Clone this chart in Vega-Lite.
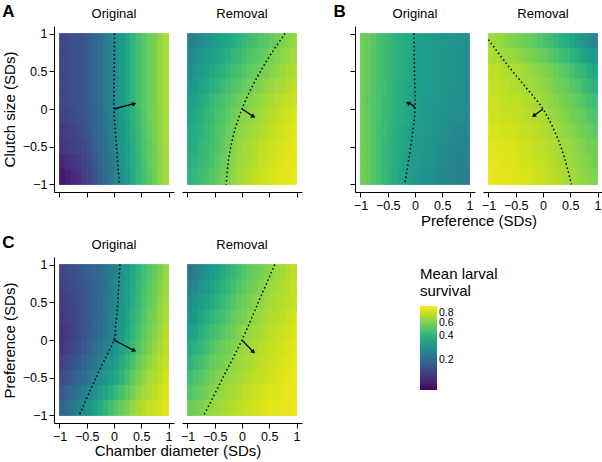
{
  "$schema": "https://vega.github.io/schema/vega-lite/v6.json",
  "padding": {"left": 2, "top": 3, "right": 0, "bottom": 0},
  "background": "white",
  "datasets": {
    "d": [
      {"k":"h","g":"A","m":"Original","y":0.9,"x":[-0.95,-0.85,-0.75,-0.65,-0.55,-0.45,-0.35,-0.25,-0.15,-0.05,0.05,0.15,0.25,0.35,0.45,0.55,0.65,0.75,0.85,0.95],"v":[0.136,0.140,0.147,0.150,0.154,0.166,0.184,0.204,0.225,0.249,0.283,0.321,0.364,0.413,0.469,0.519,0.560,0.604,0.668,0.720]},
      {"k":"h","g":"A","m":"Original","y":0.7,"x":[-0.95,-0.85,-0.75,-0.65,-0.55,-0.45,-0.35,-0.25,-0.15,-0.05,0.05,0.15,0.25,0.35,0.45,0.55,0.65,0.75,0.85,0.95],"v":[0.136,0.140,0.147,0.150,0.154,0.166,0.184,0.204,0.225,0.249,0.283,0.321,0.364,0.413,0.469,0.519,0.560,0.604,0.668,0.720]},
      {"k":"h","g":"A","m":"Original","y":0.5,"x":[-0.95,-0.85,-0.75,-0.65,-0.55,-0.45,-0.35,-0.25,-0.15,-0.05,0.05,0.15,0.25,0.35,0.45,0.55,0.65,0.75,0.85,0.95],"v":[0.136,0.140,0.147,0.150,0.154,0.166,0.184,0.204,0.225,0.249,0.283,0.321,0.364,0.413,0.469,0.519,0.560,0.604,0.668,0.720]},
      {"k":"h","g":"A","m":"Original","y":0.3,"x":[-0.95,-0.85,-0.75,-0.65,-0.55,-0.45,-0.35,-0.25,-0.15,-0.05,0.05,0.15,0.25,0.35,0.45,0.55,0.65,0.75,0.85,0.95],"v":[0.136,0.140,0.147,0.150,0.154,0.166,0.184,0.204,0.225,0.249,0.283,0.321,0.364,0.413,0.469,0.519,0.560,0.604,0.668,0.720]},
      {"k":"h","g":"A","m":"Original","y":0.1,"x":[-0.95,-0.85,-0.75,-0.65,-0.55,-0.45,-0.35,-0.25,-0.15,-0.05,0.05,0.15,0.25,0.35,0.45,0.55,0.65,0.75,0.85,0.95],"v":[0.136,0.140,0.147,0.150,0.154,0.166,0.184,0.204,0.225,0.249,0.283,0.321,0.364,0.413,0.469,0.519,0.560,0.604,0.668,0.720]},
      {"k":"h","g":"A","m":"Original","y":-0.1,"x":[-0.95,-0.85,-0.75,-0.65,-0.55,-0.45,-0.35,-0.25,-0.15,-0.05,0.05,0.15,0.25,0.35,0.45,0.55,0.65,0.75,0.85,0.95],"v":[0.133,0.136,0.140,0.147,0.150,0.162,0.180,0.199,0.220,0.243,0.276,0.313,0.355,0.403,0.457,0.506,0.560,0.604,0.651,0.720]},
      {"k":"h","g":"A","m":"Original","y":-0.3,"x":[-0.95,-0.85,-0.75,-0.65,-0.55,-0.45,-0.35,-0.25,-0.15,-0.05,0.05,0.15,0.25,0.35,0.45,0.55,0.65,0.75,0.85,0.95],"v":[0.123,0.129,0.133,0.140,0.147,0.158,0.175,0.194,0.214,0.237,0.269,0.305,0.346,0.393,0.446,0.506,0.546,0.604,0.651,0.720]},
      {"k":"h","g":"A","m":"Original","y":-0.5,"x":[-0.95,-0.85,-0.75,-0.65,-0.55,-0.45,-0.35,-0.25,-0.15,-0.05,0.05,0.15,0.25,0.35,0.45,0.55,0.65,0.75,0.85,0.95],"v":[0.117,0.123,0.129,0.133,0.140,0.150,0.166,0.189,0.209,0.231,0.262,0.298,0.338,0.383,0.435,0.493,0.532,0.589,0.651,0.702]},
      {"k":"h","g":"A","m":"Original","y":-0.7,"x":[-0.95,-0.85,-0.75,-0.65,-0.55,-0.45,-0.35,-0.25,-0.15,-0.05,0.05,0.15,0.25,0.35,0.45,0.55,0.65,0.75,0.85,0.95],"v":[0.103,0.111,0.117,0.123,0.133,0.143,0.158,0.180,0.199,0.220,0.249,0.283,0.329,0.374,0.435,0.481,0.532,0.589,0.635,0.702]},
      {"k":"h","g":"A","m":"Original","y":-0.9,"x":[-0.95,-0.85,-0.75,-0.65,-0.55,-0.45,-0.35,-0.25,-0.15,-0.05,0.05,0.15,0.25,0.35,0.45,0.55,0.65,0.75,0.85,0.95],"v":[0.093,0.100,0.106,0.114,0.123,0.136,0.150,0.171,0.189,0.214,0.243,0.276,0.321,0.364,0.424,0.469,0.519,0.574,0.635,0.702]},

      {"k":"h","g":"A","m":"Removal","y":0.9,"x":[-0.95,-0.85,-0.75,-0.65,-0.55,-0.45,-0.35,-0.25,-0.15,-0.05,0.05,0.15,0.25,0.35,0.45,0.55,0.65,0.75,0.85,0.95],"v":[0.237,0.256,0.269,0.290,0.305,0.329,0.346,0.364,0.383,0.413,0.435,0.457,0.481,0.506,0.519,0.546,0.574,0.604,0.635,0.668]},
      {"k":"h","g":"A","m":"Removal","y":0.7,"x":[-0.95,-0.85,-0.75,-0.65,-0.55,-0.45,-0.35,-0.25,-0.15,-0.05,0.05,0.15,0.25,0.35,0.45,0.55,0.65,0.75,0.85,0.95],"v":[0.256,0.276,0.290,0.313,0.338,0.355,0.374,0.393,0.424,0.446,0.469,0.493,0.519,0.532,0.560,0.589,0.619,0.651,0.668,0.702]},
      {"k":"h","g":"A","m":"Removal","y":0.5,"x":[-0.95,-0.85,-0.75,-0.65,-0.55,-0.45,-0.35,-0.25,-0.15,-0.05,0.05,0.15,0.25,0.35,0.45,0.55,0.65,0.75,0.85,0.95],"v":[0.276,0.298,0.321,0.338,0.364,0.383,0.403,0.435,0.457,0.481,0.506,0.532,0.560,0.574,0.604,0.635,0.651,0.685,0.720,0.739]},
      {"k":"h","g":"A","m":"Removal","y":0.3,"x":[-0.95,-0.85,-0.75,-0.65,-0.55,-0.45,-0.35,-0.25,-0.15,-0.05,0.05,0.15,0.25,0.35,0.45,0.55,0.65,0.75,0.85,0.95],"v":[0.305,0.321,0.346,0.364,0.393,0.413,0.446,0.469,0.493,0.519,0.546,0.574,0.604,0.619,0.651,0.685,0.702,0.720,0.758,0.777]},
      {"k":"h","g":"A","m":"Removal","y":0.1,"x":[-0.95,-0.85,-0.75,-0.65,-0.55,-0.45,-0.35,-0.25,-0.15,-0.05,0.05,0.15,0.25,0.35,0.45,0.55,0.65,0.75,0.85,0.95],"v":[0.329,0.346,0.374,0.403,0.424,0.457,0.481,0.506,0.532,0.560,0.589,0.619,0.651,0.668,0.702,0.720,0.758,0.777,0.797,0.817]},
      {"k":"h","g":"A","m":"Removal","y":-0.1,"x":[-0.95,-0.85,-0.75,-0.65,-0.55,-0.45,-0.35,-0.25,-0.15,-0.05,0.05,0.15,0.25,0.35,0.45,0.55,0.65,0.75,0.85,0.95],"v":[0.346,0.374,0.393,0.424,0.446,0.481,0.506,0.532,0.574,0.604,0.635,0.651,0.685,0.702,0.739,0.758,0.777,0.817,0.838,0.860]},
      {"k":"h","g":"A","m":"Removal","y":-0.3,"x":[-0.95,-0.85,-0.75,-0.65,-0.55,-0.45,-0.35,-0.25,-0.15,-0.05,0.05,0.15,0.25,0.35,0.45,0.55,0.65,0.75,0.85,0.95],"v":[0.364,0.383,0.403,0.435,0.457,0.493,0.519,0.560,0.589,0.635,0.668,0.685,0.720,0.739,0.758,0.797,0.817,0.838,0.860,0.882]},
      {"k":"h","g":"A","m":"Removal","y":-0.5,"x":[-0.95,-0.85,-0.75,-0.65,-0.55,-0.45,-0.35,-0.25,-0.15,-0.05,0.05,0.15,0.25,0.35,0.45,0.55,0.65,0.75,0.85,0.95],"v":[0.374,0.393,0.424,0.446,0.469,0.493,0.532,0.574,0.619,0.668,0.702,0.720,0.739,0.777,0.797,0.817,0.838,0.860,0.882,0.904]},
      {"k":"h","g":"A","m":"Removal","y":-0.7,"x":[-0.95,-0.85,-0.75,-0.65,-0.55,-0.45,-0.35,-0.25,-0.15,-0.05,0.05,0.15,0.25,0.35,0.45,0.55,0.65,0.75,0.85,0.95],"v":[0.393,0.413,0.435,0.457,0.481,0.519,0.546,0.589,0.635,0.685,0.720,0.739,0.758,0.797,0.817,0.838,0.860,0.882,0.904,0.904]},
      {"k":"h","g":"A","m":"Removal","y":-0.9,"x":[-0.95,-0.85,-0.75,-0.65,-0.55,-0.45,-0.35,-0.25,-0.15,-0.05,0.05,0.15,0.25,0.35,0.45,0.55,0.65,0.75,0.85,0.95],"v":[0.413,0.435,0.457,0.481,0.506,0.532,0.574,0.604,0.651,0.702,0.739,0.758,0.797,0.817,0.838,0.860,0.882,0.904,0.904,0.927]},

      {"k":"h","g":"B","m":"Original","y":0.9,"x":[-0.95,-0.85,-0.75,-0.65,-0.55,-0.45,-0.35,-0.25,-0.15,-0.05,0.05,0.15,0.25,0.35,0.45,0.55,0.65,0.75,0.85,0.95],"v":[0.574,0.546,0.519,0.481,0.457,0.435,0.413,0.393,0.374,0.355,0.338,0.329,0.321,0.313,0.305,0.305,0.298,0.290,0.290,0.283]},
      {"k":"h","g":"B","m":"Original","y":0.7,"x":[-0.95,-0.85,-0.75,-0.65,-0.55,-0.45,-0.35,-0.25,-0.15,-0.05,0.05,0.15,0.25,0.35,0.45,0.55,0.65,0.75,0.85,0.95],"v":[0.574,0.546,0.506,0.481,0.457,0.435,0.413,0.393,0.374,0.355,0.338,0.329,0.321,0.313,0.305,0.298,0.290,0.290,0.283,0.276]},
      {"k":"h","g":"B","m":"Original","y":0.5,"x":[-0.95,-0.85,-0.75,-0.65,-0.55,-0.45,-0.35,-0.25,-0.15,-0.05,0.05,0.15,0.25,0.35,0.45,0.55,0.65,0.75,0.85,0.95],"v":[0.574,0.546,0.506,0.481,0.457,0.435,0.413,0.393,0.374,0.355,0.338,0.329,0.321,0.313,0.305,0.298,0.290,0.283,0.283,0.276]},
      {"k":"h","g":"B","m":"Original","y":0.3,"x":[-0.95,-0.85,-0.75,-0.65,-0.55,-0.45,-0.35,-0.25,-0.15,-0.05,0.05,0.15,0.25,0.35,0.45,0.55,0.65,0.75,0.85,0.95],"v":[0.574,0.546,0.506,0.481,0.457,0.424,0.403,0.383,0.364,0.346,0.338,0.329,0.321,0.305,0.298,0.290,0.290,0.283,0.276,0.269]},
      {"k":"h","g":"B","m":"Original","y":0.1,"x":[-0.95,-0.85,-0.75,-0.65,-0.55,-0.45,-0.35,-0.25,-0.15,-0.05,0.05,0.15,0.25,0.35,0.45,0.55,0.65,0.75,0.85,0.95],"v":[0.574,0.532,0.506,0.481,0.446,0.424,0.403,0.383,0.364,0.346,0.338,0.321,0.313,0.305,0.298,0.290,0.283,0.276,0.276,0.269]},
      {"k":"h","g":"B","m":"Original","y":-0.1,"x":[-0.95,-0.85,-0.75,-0.65,-0.55,-0.45,-0.35,-0.25,-0.15,-0.05,0.05,0.15,0.25,0.35,0.45,0.55,0.65,0.75,0.85,0.95],"v":[0.574,0.546,0.506,0.481,0.446,0.424,0.403,0.383,0.364,0.346,0.329,0.321,0.313,0.298,0.290,0.283,0.276,0.276,0.269,0.262]},
      {"k":"h","g":"B","m":"Original","y":-0.3,"x":[-0.95,-0.85,-0.75,-0.65,-0.55,-0.45,-0.35,-0.25,-0.15,-0.05,0.05,0.15,0.25,0.35,0.45,0.55,0.65,0.75,0.85,0.95],"v":[0.574,0.546,0.506,0.469,0.446,0.413,0.393,0.374,0.355,0.338,0.321,0.313,0.305,0.290,0.283,0.276,0.269,0.262,0.262,0.256]},
      {"k":"h","g":"B","m":"Original","y":-0.5,"x":[-0.95,-0.85,-0.75,-0.65,-0.55,-0.45,-0.35,-0.25,-0.15,-0.05,0.05,0.15,0.25,0.35,0.45,0.55,0.65,0.75,0.85,0.95],"v":[0.589,0.546,0.506,0.469,0.435,0.413,0.393,0.374,0.346,0.329,0.313,0.305,0.298,0.290,0.276,0.269,0.262,0.256,0.249,0.249]},
      {"k":"h","g":"B","m":"Original","y":-0.7,"x":[-0.95,-0.85,-0.75,-0.65,-0.55,-0.45,-0.35,-0.25,-0.15,-0.05,0.05,0.15,0.25,0.35,0.45,0.55,0.65,0.75,0.85,0.95],"v":[0.589,0.546,0.506,0.469,0.435,0.413,0.383,0.364,0.346,0.321,0.313,0.298,0.290,0.283,0.269,0.262,0.256,0.249,0.243,0.237]},
      {"k":"h","g":"B","m":"Original","y":-0.9,"x":[-0.95,-0.85,-0.75,-0.65,-0.55,-0.45,-0.35,-0.25,-0.15,-0.05,0.05,0.15,0.25,0.35,0.45,0.55,0.65,0.75,0.85,0.95],"v":[0.589,0.546,0.506,0.469,0.435,0.403,0.383,0.355,0.338,0.313,0.305,0.290,0.283,0.276,0.262,0.256,0.249,0.243,0.237,0.231]},

      {"k":"h","g":"B","m":"Removal","y":0.9,"x":[-0.95,-0.85,-0.75,-0.65,-0.55,-0.45,-0.35,-0.25,-0.15,-0.05,0.05,0.15,0.25,0.35,0.45,0.55,0.65,0.75,0.85,0.95],"v":[0.702,0.685,0.668,0.635,0.619,0.604,0.574,0.560,0.532,0.506,0.481,0.457,0.435,0.403,0.383,0.355,0.329,0.298,0.276,0.249]},
      {"k":"h","g":"B","m":"Removal","y":0.7,"x":[-0.95,-0.85,-0.75,-0.65,-0.55,-0.45,-0.35,-0.25,-0.15,-0.05,0.05,0.15,0.25,0.35,0.45,0.55,0.65,0.75,0.85,0.95],"v":[0.739,0.720,0.702,0.685,0.685,0.651,0.635,0.619,0.589,0.574,0.546,0.519,0.493,0.469,0.446,0.413,0.383,0.355,0.329,0.305]},
      {"k":"h","g":"B","m":"Removal","y":0.5,"x":[-0.95,-0.85,-0.75,-0.65,-0.55,-0.45,-0.35,-0.25,-0.15,-0.05,0.05,0.15,0.25,0.35,0.45,0.55,0.65,0.75,0.85,0.95],"v":[0.777,0.777,0.758,0.739,0.739,0.720,0.702,0.685,0.651,0.635,0.619,0.589,0.560,0.532,0.506,0.481,0.446,0.424,0.393,0.364]},
      {"k":"h","g":"B","m":"Removal","y":0.3,"x":[-0.95,-0.85,-0.75,-0.65,-0.55,-0.45,-0.35,-0.25,-0.15,-0.05,0.05,0.15,0.25,0.35,0.45,0.55,0.65,0.75,0.85,0.95],"v":[0.797,0.797,0.777,0.777,0.758,0.739,0.720,0.702,0.685,0.668,0.651,0.619,0.589,0.574,0.546,0.519,0.493,0.457,0.435,0.403]},
      {"k":"h","g":"B","m":"Removal","y":0.1,"x":[-0.95,-0.85,-0.75,-0.65,-0.55,-0.45,-0.35,-0.25,-0.15,-0.05,0.05,0.15,0.25,0.35,0.45,0.55,0.65,0.75,0.85,0.95],"v":[0.817,0.817,0.797,0.797,0.777,0.777,0.758,0.739,0.720,0.702,0.685,0.651,0.635,0.604,0.589,0.560,0.532,0.506,0.481,0.457]},
      {"k":"h","g":"B","m":"Removal","y":-0.1,"x":[-0.95,-0.85,-0.75,-0.65,-0.55,-0.45,-0.35,-0.25,-0.15,-0.05,0.05,0.15,0.25,0.35,0.45,0.55,0.65,0.75,0.85,0.95],"v":[0.838,0.838,0.817,0.817,0.797,0.797,0.777,0.758,0.739,0.739,0.720,0.685,0.668,0.635,0.619,0.589,0.574,0.546,0.519,0.493]},
      {"k":"h","g":"B","m":"Removal","y":-0.3,"x":[-0.95,-0.85,-0.75,-0.65,-0.55,-0.45,-0.35,-0.25,-0.15,-0.05,0.05,0.15,0.25,0.35,0.45,0.55,0.65,0.75,0.85,0.95],"v":[0.860,0.860,0.838,0.838,0.838,0.817,0.797,0.797,0.777,0.758,0.739,0.720,0.702,0.668,0.651,0.635,0.604,0.574,0.560,0.532]},
      {"k":"h","g":"B","m":"Removal","y":-0.5,"x":[-0.95,-0.85,-0.75,-0.65,-0.55,-0.45,-0.35,-0.25,-0.15,-0.05,0.05,0.15,0.25,0.35,0.45,0.55,0.65,0.75,0.85,0.95],"v":[0.882,0.882,0.882,0.860,0.860,0.838,0.838,0.817,0.797,0.777,0.777,0.739,0.720,0.702,0.685,0.668,0.635,0.619,0.589,0.574]},
      {"k":"h","g":"B","m":"Removal","y":-0.7,"x":[-0.95,-0.85,-0.75,-0.65,-0.55,-0.45,-0.35,-0.25,-0.15,-0.05,0.05,0.15,0.25,0.35,0.45,0.55,0.65,0.75,0.85,0.95],"v":[0.904,0.904,0.882,0.882,0.882,0.860,0.838,0.838,0.817,0.797,0.797,0.758,0.739,0.720,0.702,0.685,0.651,0.635,0.619,0.589]},
      {"k":"h","g":"B","m":"Removal","y":-0.9,"x":[-0.95,-0.85,-0.75,-0.65,-0.55,-0.45,-0.35,-0.25,-0.15,-0.05,0.05,0.15,0.25,0.35,0.45,0.55,0.65,0.75,0.85,0.95],"v":[0.927,0.904,0.904,0.904,0.882,0.882,0.860,0.860,0.838,0.817,0.817,0.777,0.758,0.739,0.720,0.702,0.685,0.651,0.635,0.619]},

      {"k":"h","g":"C","m":"Original","y":0.9,"x":[-0.95,-0.85,-0.75,-0.65,-0.55,-0.45,-0.35,-0.25,-0.15,-0.05,0.05,0.15,0.25,0.35,0.45,0.55,0.65,0.75,0.85,0.95],"v":[0.136,0.143,0.147,0.154,0.162,0.171,0.184,0.194,0.209,0.225,0.249,0.283,0.321,0.364,0.413,0.457,0.506,0.560,0.604,0.668]},
      {"k":"h","g":"C","m":"Original","y":0.7,"x":[-0.95,-0.85,-0.75,-0.65,-0.55,-0.45,-0.35,-0.25,-0.15,-0.05,0.05,0.15,0.25,0.35,0.45,0.55,0.65,0.75,0.85,0.95],"v":[0.129,0.136,0.143,0.147,0.154,0.166,0.180,0.194,0.209,0.231,0.256,0.290,0.329,0.374,0.424,0.481,0.519,0.574,0.619,0.685]},
      {"k":"h","g":"C","m":"Original","y":0.5,"x":[-0.95,-0.85,-0.75,-0.65,-0.55,-0.45,-0.35,-0.25,-0.15,-0.05,0.05,0.15,0.25,0.35,0.45,0.55,0.65,0.75,0.85,0.95],"v":[0.123,0.129,0.136,0.143,0.150,0.162,0.175,0.194,0.214,0.231,0.262,0.298,0.338,0.383,0.435,0.493,0.532,0.589,0.651,0.702]},
      {"k":"h","g":"C","m":"Original","y":0.3,"x":[-0.95,-0.85,-0.75,-0.65,-0.55,-0.45,-0.35,-0.25,-0.15,-0.05,0.05,0.15,0.25,0.35,0.45,0.55,0.65,0.75,0.85,0.95],"v":[0.120,0.126,0.133,0.143,0.150,0.162,0.180,0.199,0.214,0.237,0.269,0.305,0.346,0.403,0.457,0.506,0.560,0.604,0.668,0.720]},
      {"k":"h","g":"C","m":"Original","y":0.1,"x":[-0.95,-0.85,-0.75,-0.65,-0.55,-0.45,-0.35,-0.25,-0.15,-0.05,0.05,0.15,0.25,0.35,0.45,0.55,0.65,0.75,0.85,0.95],"v":[0.114,0.123,0.129,0.140,0.150,0.162,0.180,0.199,0.220,0.243,0.276,0.313,0.364,0.413,0.481,0.532,0.574,0.635,0.685,0.758]},
      {"k":"h","g":"C","m":"Original","y":-0.1,"x":[-0.95,-0.85,-0.75,-0.65,-0.55,-0.45,-0.35,-0.25,-0.15,-0.05,0.05,0.15,0.25,0.35,0.45,0.55,0.65,0.75,0.85,0.95],"v":[0.117,0.126,0.136,0.147,0.158,0.175,0.194,0.214,0.237,0.262,0.298,0.338,0.383,0.446,0.506,0.560,0.604,0.668,0.720,0.777]},
      {"k":"h","g":"C","m":"Original","y":-0.3,"x":[-0.95,-0.85,-0.75,-0.65,-0.55,-0.45,-0.35,-0.25,-0.15,-0.05,0.05,0.15,0.25,0.35,0.45,0.55,0.65,0.75,0.85,0.95],"v":[0.126,0.140,0.150,0.162,0.180,0.194,0.214,0.237,0.269,0.298,0.329,0.374,0.424,0.481,0.546,0.604,0.651,0.702,0.758,0.797]},
      {"k":"h","g":"C","m":"Original","y":-0.5,"x":[-0.95,-0.85,-0.75,-0.65,-0.55,-0.45,-0.35,-0.25,-0.15,-0.05,0.05,0.15,0.25,0.35,0.45,0.55,0.65,0.75,0.85,0.95],"v":[0.140,0.150,0.166,0.184,0.199,0.220,0.243,0.269,0.298,0.329,0.364,0.413,0.469,0.532,0.604,0.651,0.702,0.739,0.777,0.838]},
      {"k":"h","g":"C","m":"Original","y":-0.7,"x":[-0.95,-0.85,-0.75,-0.65,-0.55,-0.45,-0.35,-0.25,-0.15,-0.05,0.05,0.15,0.25,0.35,0.45,0.55,0.65,0.75,0.85,0.95],"v":[0.158,0.175,0.194,0.209,0.231,0.256,0.283,0.321,0.355,0.393,0.435,0.481,0.532,0.589,0.651,0.702,0.739,0.777,0.817,0.860]},
      {"k":"h","g":"C","m":"Original","y":-0.9,"x":[-0.95,-0.85,-0.75,-0.65,-0.55,-0.45,-0.35,-0.25,-0.15,-0.05,0.05,0.15,0.25,0.35,0.45,0.55,0.65,0.75,0.85,0.95],"v":[0.180,0.199,0.220,0.243,0.269,0.298,0.338,0.374,0.424,0.469,0.519,0.560,0.604,0.668,0.720,0.758,0.797,0.817,0.838,0.882]},

      {"k":"h","g":"C","m":"Removal","y":0.9,"x":[-0.95,-0.85,-0.75,-0.65,-0.55,-0.45,-0.35,-0.25,-0.15,-0.05,0.05,0.15,0.25,0.35,0.45,0.55,0.65,0.75,0.85,0.95],"v":[0.214,0.237,0.262,0.283,0.313,0.338,0.374,0.403,0.435,0.469,0.506,0.532,0.560,0.589,0.619,0.651,0.685,0.702,0.739,0.777]},
      {"k":"h","g":"C","m":"Removal","y":0.7,"x":[-0.95,-0.85,-0.75,-0.65,-0.55,-0.45,-0.35,-0.25,-0.15,-0.05,0.05,0.15,0.25,0.35,0.45,0.55,0.65,0.75,0.85,0.95],"v":[0.237,0.262,0.290,0.313,0.346,0.374,0.403,0.435,0.469,0.506,0.532,0.560,0.589,0.619,0.651,0.685,0.702,0.739,0.758,0.797]},
      {"k":"h","g":"C","m":"Removal","y":0.5,"x":[-0.95,-0.85,-0.75,-0.65,-0.55,-0.45,-0.35,-0.25,-0.15,-0.05,0.05,0.15,0.25,0.35,0.45,0.55,0.65,0.75,0.85,0.95],"v":[0.269,0.290,0.321,0.346,0.374,0.403,0.435,0.469,0.506,0.546,0.574,0.604,0.635,0.651,0.685,0.720,0.739,0.758,0.777,0.797]},
      {"k":"h","g":"C","m":"Removal","y":0.3,"x":[-0.95,-0.85,-0.75,-0.65,-0.55,-0.45,-0.35,-0.25,-0.15,-0.05,0.05,0.15,0.25,0.35,0.45,0.55,0.65,0.75,0.85,0.95],"v":[0.298,0.321,0.355,0.383,0.413,0.446,0.469,0.506,0.546,0.574,0.604,0.635,0.668,0.685,0.720,0.739,0.758,0.777,0.817,0.838]},
      {"k":"h","g":"C","m":"Removal","y":0.1,"x":[-0.95,-0.85,-0.75,-0.65,-0.55,-0.45,-0.35,-0.25,-0.15,-0.05,0.05,0.15,0.25,0.35,0.45,0.55,0.65,0.75,0.85,0.95],"v":[0.329,0.355,0.393,0.424,0.457,0.481,0.519,0.546,0.574,0.619,0.651,0.668,0.702,0.720,0.758,0.777,0.797,0.817,0.838,0.860]},
      {"k":"h","g":"C","m":"Removal","y":-0.1,"x":[-0.95,-0.85,-0.75,-0.65,-0.55,-0.45,-0.35,-0.25,-0.15,-0.05,0.05,0.15,0.25,0.35,0.45,0.55,0.65,0.75,0.85,0.95],"v":[0.374,0.403,0.424,0.457,0.493,0.532,0.560,0.589,0.619,0.651,0.685,0.702,0.720,0.758,0.777,0.797,0.817,0.838,0.860,0.882]},
      {"k":"h","g":"C","m":"Removal","y":-0.3,"x":[-0.95,-0.85,-0.75,-0.65,-0.55,-0.45,-0.35,-0.25,-0.15,-0.05,0.05,0.15,0.25,0.35,0.45,0.55,0.65,0.75,0.85,0.95],"v":[0.413,0.446,0.469,0.506,0.546,0.574,0.589,0.619,0.651,0.685,0.702,0.720,0.758,0.777,0.797,0.817,0.838,0.860,0.882,0.904]},
      {"k":"h","g":"C","m":"Removal","y":-0.5,"x":[-0.95,-0.85,-0.75,-0.65,-0.55,-0.45,-0.35,-0.25,-0.15,-0.05,0.05,0.15,0.25,0.35,0.45,0.55,0.65,0.75,0.85,0.95],"v":[0.457,0.493,0.519,0.546,0.589,0.619,0.635,0.668,0.685,0.702,0.739,0.758,0.777,0.797,0.817,0.838,0.860,0.882,0.904,0.927]},
      {"k":"h","g":"C","m":"Removal","y":-0.7,"x":[-0.95,-0.85,-0.75,-0.65,-0.55,-0.45,-0.35,-0.25,-0.15,-0.05,0.05,0.15,0.25,0.35,0.45,0.55,0.65,0.75,0.85,0.95],"v":[0.506,0.532,0.560,0.589,0.619,0.651,0.668,0.702,0.720,0.739,0.777,0.797,0.817,0.838,0.860,0.882,0.882,0.904,0.927,0.927]},
      {"k":"h","g":"C","m":"Removal","y":-0.9,"x":[-0.95,-0.85,-0.75,-0.65,-0.55,-0.45,-0.35,-0.25,-0.15,-0.05,0.05,0.15,0.25,0.35,0.45,0.55,0.65,0.75,0.85,0.95],"v":[0.560,0.589,0.604,0.635,0.668,0.685,0.702,0.739,0.758,0.777,0.797,0.817,0.838,0.860,0.882,0.904,0.904,0.927,0.927,0.951]},

      {"k":"c","g":"A","m":"Original","o":0,"x":0.01,"y":1},
      {"k":"c","g":"A","m":"Original","o":1,"x":0.005,"y":0.5},
      {"k":"c","g":"A","m":"Original","o":2,"x":0,"y":0},
      {"k":"c","g":"A","m":"Original","o":3,"x":0.045,"y":-0.5},
      {"k":"c","g":"A","m":"Original","o":4,"x":0.1,"y":-1},
      {"k":"c","g":"A","m":"Removal","o":0,"x":0.79,"y":1},
      {"k":"c","g":"A","m":"Removal","o":1,"x":0.55,"y":0.75},
      {"k":"c","g":"A","m":"Removal","o":2,"x":0.34,"y":0.5},
      {"k":"c","g":"A","m":"Removal","o":3,"x":0.155,"y":0.25},
      {"k":"c","g":"A","m":"Removal","o":4,"x":0,"y":0},
      {"k":"c","g":"A","m":"Removal","o":5,"x":-0.12,"y":-0.25},
      {"k":"c","g":"A","m":"Removal","o":6,"x":-0.205,"y":-0.5},
      {"k":"c","g":"A","m":"Removal","o":7,"x":-0.26,"y":-0.75},
      {"k":"c","g":"A","m":"Removal","o":8,"x":-0.29,"y":-1},
      {"k":"c","g":"B","m":"Original","o":0,"x":-0.02,"y":1},
      {"k":"c","g":"B","m":"Original","o":1,"x":-0.01,"y":0.5},
      {"k":"c","g":"B","m":"Original","o":2,"x":0,"y":0},
      {"k":"c","g":"B","m":"Original","o":3,"x":-0.08,"y":-0.5},
      {"k":"c","g":"B","m":"Original","o":4,"x":-0.19,"y":-1},
      {"k":"c","g":"B","m":"Removal","o":0,"x":-1,"y":0.92},
      {"k":"c","g":"B","m":"Removal","o":1,"x":-0.67,"y":0.6},
      {"k":"c","g":"B","m":"Removal","o":2,"x":-0.33,"y":0.3},
      {"k":"c","g":"B","m":"Removal","o":3,"x":0,"y":0},
      {"k":"c","g":"B","m":"Removal","o":4,"x":0.24,"y":-0.34},
      {"k":"c","g":"B","m":"Removal","o":5,"x":0.4,"y":-0.66},
      {"k":"c","g":"B","m":"Removal","o":6,"x":0.52,"y":-1},
      {"k":"c","g":"C","m":"Original","o":0,"x":0.11,"y":1},
      {"k":"c","g":"C","m":"Original","o":1,"x":0.07,"y":0.5},
      {"k":"c","g":"C","m":"Original","o":2,"x":0.03,"y":0.2},
      {"k":"c","g":"C","m":"Original","o":3,"x":0,"y":0},
      {"k":"c","g":"C","m":"Original","o":4,"x":-0.24,"y":-0.36},
      {"k":"c","g":"C","m":"Original","o":5,"x":-0.43,"y":-0.66},
      {"k":"c","g":"C","m":"Original","o":6,"x":-0.64,"y":-1},
      {"k":"c","g":"C","m":"Removal","o":0,"x":0.6,"y":1},
      {"k":"c","g":"C","m":"Removal","o":1,"x":0.3,"y":0.5},
      {"k":"c","g":"C","m":"Removal","o":2,"x":0,"y":0},
      {"k":"c","g":"C","m":"Removal","o":3,"x":-0.35,"y":-0.5},
      {"k":"c","g":"C","m":"Removal","o":4,"x":-0.7,"y":-1},

      {"k":"a","g":"A","m":"Original","o":0,"x":0,"y":0},
      {"k":"a","g":"A","m":"Original","o":1,"x":0.37,"y":0.07},
      {"k":"a","g":"A","m":"Removal","o":0,"x":0,"y":0},
      {"k":"a","g":"A","m":"Removal","o":1,"x":0.21,"y":-0.1},
      {"k":"a","g":"B","m":"Original","o":0,"x":0,"y":0},
      {"k":"a","g":"B","m":"Original","o":1,"x":-0.04,"y":0.05},
      {"k":"a","g":"B","m":"Original","o":2,"x":-0.13,"y":0.08},
      {"k":"a","g":"B","m":"Removal","o":0,"x":0,"y":0},
      {"k":"a","g":"B","m":"Removal","o":1,"x":-0.17,"y":-0.09},
      {"k":"a","g":"C","m":"Original","o":0,"x":0,"y":0},
      {"k":"a","g":"C","m":"Original","o":1,"x":0.37,"y":-0.14},
      {"k":"a","g":"C","m":"Removal","o":0,"x":0,"y":0},
      {"k":"a","g":"C","m":"Removal","o":1,"x":0.21,"y":-0.16},

      {"k":"p","g":"A","m":"Original","x":0.37,"y":0.07,"ang":75},
      {"k":"p","g":"A","m":"Removal","x":0.21,"y":-0.1,"ang":124},
      {"k":"p","g":"B","m":"Original","x":-0.13,"y":0.08,"ang":298},
      {"k":"p","g":"B","m":"Removal","x":-0.17,"y":-0.09,"ang":234},
      {"k":"p","g":"C","m":"Original","x":0.37,"y":-0.14,"ang":118},
      {"k":"p","g":"C","m":"Removal","x":0.21,"y":-0.16,"ang":137}
    ]
  },
  "vconcat": [
    {
      "hconcat": [
        {
          "data": {"name": "d"},
          "transform": [{"filter": "datum.g === 'A'"}],
          "title": {"text": "A", "anchor": "start", "frame": "bounds", "fontSize": 17, "fontWeight": "bold", "dy": 17},
          "facet": {"column": {"field": "m", "type": "nominal", "header": {"title": null}}},
          "spacing": 8,
          "spec": {
            "width": 120, "height": 166,
            "encoding": {
              "x": {"field": "x", "type": "quantitative", "scale": {"domain": [-1.1, 1.1], "nice": false, "zero": false}, "axis": {"values": [-1, -0.5, 0, 0.5, 1], "labels": false, "title": null}},
              "y": {"field": "y", "type": "quantitative", "scale": {"domain": [-1.1, 1.1], "nice": false, "zero": false}, "axis": {"values": [-1, -0.5, 0, 0.5, 1], "format": "~g", "title": "Clutch size (SDs)"}}
            },
            "layer": [
              {"transform": [{"filter": "datum.k === 'h'"}, {"flatten": ["x", "v"]}],
               "mark": {"type": "point", "shape": "M-1,-2.58H1V2.58H-1Z", "size": 38.4, "filled": true, "opacity": 1, "strokeWidth": 0},
               "encoding": {"color": {"field": "v", "type": "quantitative", "scale": {"type": "log", "domain": [0.08, 1], "scheme": "viridis"},
                 "legend": {"orient": "none", "legendX": 366, "legendY": 241, "direction": "vertical", "title": ["Mean larval", "survival"], "values": [0.2, 0.4, 0.6, 0.8], "format": "~g", "gradientLength": 84, "gradientThickness": 17, "labelOverlap": false}}}},
              {"transform": [{"filter": "datum.k === 'c'"}], "mark": {"type": "line", "color": "black", "strokeWidth": 1.5, "strokeDash": [1.5, 2.6], "interpolate": "cardinal"}, "encoding": {"order": {"field": "o", "type": "quantitative"}}},
              {"transform": [{"filter": "datum.k === 'a'"}], "mark": {"type": "line", "color": "black", "strokeWidth": 1.3}, "encoding": {"order": {"field": "o", "type": "quantitative"}}},
              {"transform": [{"filter": "datum.k === 'p'"}], "mark": {"type": "point", "shape": "triangle-up", "size": 24, "filled": true, "color": "black", "opacity": 1}, "encoding": {"angle": {"field": "ang", "type": "quantitative", "scale": null}}}
            ]
          }
        },
        {
          "data": {"name": "d"},
          "transform": [{"filter": "datum.g === 'B'"}],
          "title": {"text": "B", "anchor": "start", "frame": "bounds", "fontSize": 17, "fontWeight": "bold", "dy": 17, "dx": -16},
          "facet": {"column": {"field": "m", "type": "nominal", "title": "Preference (SDs)", "header": {"titleOrient": "bottom", "labelOrient": "top", "titlePadding": -8}}},
          "spacing": 8,
          "spec": {
            "width": 120, "height": 166,
            "encoding": {
              "x": {"field": "x", "type": "quantitative", "scale": {"domain": [-1.1, 1.1], "nice": false, "zero": false}, "axis": {"values": [-1, -0.5, 0, 0.5, 1], "format": "~g", "title": null}},
              "y": {"field": "y", "type": "quantitative", "scale": {"domain": [-1.1, 1.1], "nice": false, "zero": false}, "axis": {"values": [-1, -0.5, 0, 0.5, 1], "labels": false, "title": null}}
            },
            "layer": [
              {"transform": [{"filter": "datum.k === 'h'"}, {"flatten": ["x", "v"]}],
               "mark": {"type": "point", "shape": "M-1,-2.58H1V2.58H-1Z", "size": 38.4, "filled": true, "opacity": 1, "strokeWidth": 0},
               "encoding": {"color": {"field": "v", "type": "quantitative", "scale": {"type": "log", "domain": [0.08, 1], "scheme": "viridis"},
                 "legend": {"orient": "none", "legendX": 366, "legendY": 241, "direction": "vertical", "title": ["Mean larval", "survival"], "values": [0.2, 0.4, 0.6, 0.8], "format": "~g", "gradientLength": 84, "gradientThickness": 17, "labelOverlap": false}}}},
              {"transform": [{"filter": "datum.k === 'c'"}], "mark": {"type": "line", "color": "black", "strokeWidth": 1.5, "strokeDash": [1.5, 2.6], "interpolate": "cardinal"}, "encoding": {"order": {"field": "o", "type": "quantitative"}}},
              {"transform": [{"filter": "datum.k === 'a'"}], "mark": {"type": "line", "color": "black", "strokeWidth": 1.3, "interpolate": "cardinal"}, "encoding": {"order": {"field": "o", "type": "quantitative"}}},
              {"transform": [{"filter": "datum.k === 'p'"}], "mark": {"type": "point", "shape": "triangle-up", "size": 24, "filled": true, "color": "black", "opacity": 1}, "encoding": {"angle": {"field": "ang", "type": "quantitative", "scale": null}}}
            ]
          }
        }
      ],
      "spacing": 31
    },
    {
      "data": {"name": "d"},
      "transform": [{"filter": "datum.g === 'C'"}],
      "title": {"text": "C", "anchor": "start", "frame": "bounds", "fontSize": 17, "fontWeight": "bold", "dy": 17},
      "facet": {"column": {"field": "m", "type": "nominal", "title": "Chamber diameter (SDs)", "header": {"titleOrient": "bottom", "labelOrient": "top", "titlePadding": -9}}},
      "spacing": 8,
      "spec": {
        "width": 120, "height": 166,
        "encoding": {
          "x": {"field": "x", "type": "quantitative", "scale": {"domain": [-1.1, 1.1], "nice": false, "zero": false}, "axis": {"values": [-1, -0.5, 0, 0.5, 1], "format": "~g", "title": null}},
          "y": {"field": "y", "type": "quantitative", "scale": {"domain": [-1.1, 1.1], "nice": false, "zero": false}, "axis": {"values": [-1, -0.5, 0, 0.5, 1], "format": "~g", "title": "Preference (SDs)"}}
        },
        "layer": [
          {"transform": [{"filter": "datum.k === 'h'"}, {"flatten": ["x", "v"]}],
           "mark": {"type": "point", "shape": "M-1,-2.58H1V2.58H-1Z", "size": 38.4, "filled": true, "opacity": 1, "strokeWidth": 0},
           "encoding": {"color": {"field": "v", "type": "quantitative", "scale": {"type": "log", "domain": [0.08, 1], "scheme": "viridis"},
             "legend": {"orient": "none", "legendX": 366, "legendY": 241, "direction": "vertical", "title": ["Mean larval", "survival"], "values": [0.2, 0.4, 0.6, 0.8], "format": "~g", "gradientLength": 84, "gradientThickness": 17, "labelOverlap": false}}}},
          {"transform": [{"filter": "datum.k === 'c'"}], "mark": {"type": "line", "color": "black", "strokeWidth": 1.5, "strokeDash": [1.5, 2.6], "interpolate": "cardinal"}, "encoding": {"order": {"field": "o", "type": "quantitative"}}},
          {"transform": [{"filter": "datum.k === 'a'"}], "mark": {"type": "line", "color": "black", "strokeWidth": 1.3}, "encoding": {"order": {"field": "o", "type": "quantitative"}}},
          {"transform": [{"filter": "datum.k === 'p'"}], "mark": {"type": "point", "shape": "triangle-up", "size": 24, "filled": true, "color": "black", "opacity": 1}, "encoding": {"angle": {"field": "ang", "type": "quantitative", "scale": null}}}
        ]
      }
    }
  ],
  "spacing": 5,
  "resolve": {"scale": {"color": "shared"}, "legend": {"color": "shared"}},
  "config": {
    "font": "Liberation Sans",
    "view": {"stroke": null},
    "axis": {"grid": false, "domainColor": "black", "tickColor": "black", "labelColor": "black", "titleColor": "black", "labelFontSize": 12.5, "titleFontSize": 15, "titleFontWeight": "normal", "tickSize": 5, "domainWidth": 1, "tickWidth": 1, "labelPadding": 2, "titlePadding": 5},
    "header": {"labelFontSize": 13, "labelColor": "black", "labelPadding": 5, "titleFontSize": 15, "titleFontWeight": "normal", "titleColor": "black"},
    "legend": {"titleFontSize": 15, "titleFontWeight": "normal", "titleColor": "black", "labelFontSize": 10.5, "labelColor": "black", "titleLineHeight": 17, "titlePadding": 7, "labelOffset": 6, "gradientStrokeWidth": 0},
    "title": {"color": "black"}
  }
}
